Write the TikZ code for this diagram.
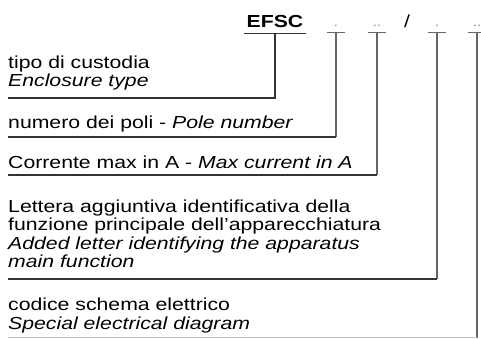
\documentclass[tikz,border=0pt]{standalone}
\usepackage{fontspec}
\setmainfont[FakeStretch=1.22]{Liberation Sans}
\begin{document}
\begin{tikzpicture}[x=1pt, y=-1pt,
    every node/.style={font=\fontsize{17.4}{18.5}\selectfont, inner sep=0pt},
    txt/.style={anchor=base west, align=left},
    code/.style={anchor=base, text depth=6pt, minimum width=61pt},
    slot/.style={anchor=base, text depth=6pt, minimum width=17pt, text=gray,
      font=\fontsize{12}{12}\selectfont},
    rule/.style={black!80, line width=1.3pt},
    lead/.style={black!60, line width=1.2pt}]
  \useasboundingbox (0,0) rectangle (481,338);
  % code header
  \node[code] (efsc) at (275,27) {\textbf{EFSC}};
  \node[slot] (s1) at (336,26) {.};
  \node[slot] (s2) at (377,26) {..};
  \node[anchor=base] (sep) at (407,27) {/};
  \node[slot] (s3) at (437,26) {.};
  \node[slot] (s4) at (477,26) {..};
  \draw[rule] (efsc.south west) -- (efsc.south east);
  \foreach \s in {s1,s2,s3,s4} \draw[lead] (\s.south west) -- (\s.south east);
  % descriptions (base = last line)
  \node[txt] (t1) at (8,86.5) {tipo di custodia\\\textit{Enclosure type}};
  \node[txt] (t2) at (8,128) {numero dei poli - \textit{Pole number}};
  \node[txt] (t3) at (8,168) {Corrente max in A - \textit{Max current in A}};
  \node[txt] (t4) at (8,267.5) {Lettera aggiuntiva identificativa della\\funzione principale dell'apparecchiatura\\\textit{Added letter identifying the apparatus}\\\textit{main function}};
  \node[txt] (t5) at (8,329) {codice schema elettrico\\\textit{Special electrical diagram}};
  % leaders
  \coordinate (c1) at (275,98);
  \coordinate (c2) at (336,137);
  \coordinate (c3) at (377,175);
  \coordinate (c4) at (437,279);
  \coordinate (c5) at (477,337.5);
  \draw[rule] (efsc.south) -- (c1) -- (c1 -| t1.west);
  \draw[lead] (s1.south) -- (c2);
  \draw[rule] (c2) -- (c2 -| t2.west);
  \draw[lead] (s2.south) -- (c3);
  \draw[rule] (c3) -- (c3 -| t3.west);
  \draw[lead] (s3.south) -- (c4);
  \draw[rule] (c4) -- (c4 -| t4.west);
  \draw[lead] (s4.south) -- (c5);
  \draw[lead, black!25] (c5) -- (c5 -| t5.west);
\end{tikzpicture}
\end{document}
